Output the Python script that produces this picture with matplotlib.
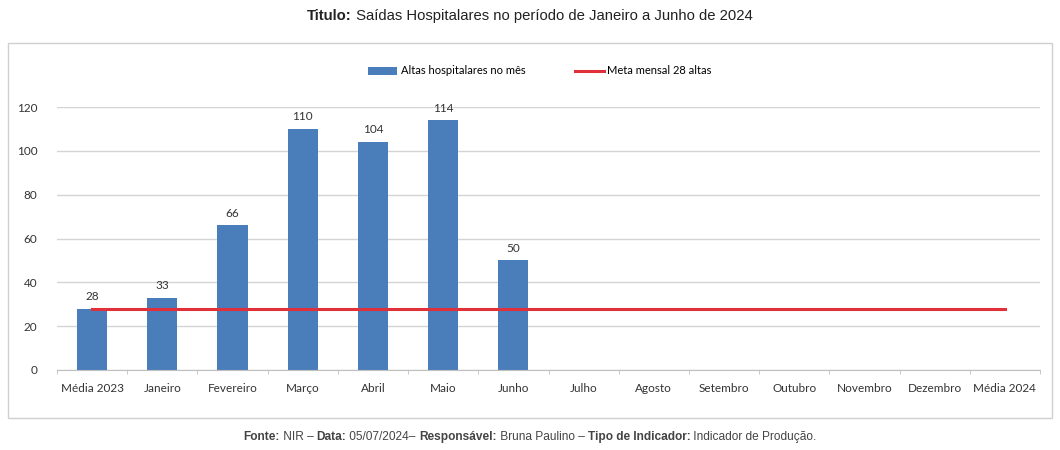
import numpy as np
import matplotlib.pyplot as plt
from matplotlib.patches import Rectangle

categorias = ["Média 2023", "Janeiro", "Fevereiro", "Março", "Abril", "Maio", "Junho",
              "Julho", "Agosto", "Setembro", "Outubro", "Novembro", "Dezembro", "Média 2024"]
altas = [28, 33, 66, 110, 104, 114, 50]
meta = [28] * len(categorias)

titulo = [("Titulo:", "bold"), (" Saídas Hospitalares no período de Janeiro a Junho de 2024", "normal")]
rodape = [("Fonte:", "bold"), (" NIR – ", "normal"), ("Data:", "bold"), (" 05/07/2024– ", "normal"),
          ("Responsável:", "bold"), (" Bruna Paulino – ", "normal"), ("Tipo de Indicador:", "bold"),
          (" Indicador de Produção.", "normal")]

fig = plt.figure(figsize=(10.6, 4.5), dpi=100)
fig.patch.set_facecolor("white")

# moldura do grafico
fig.patches.append(Rectangle((8 / 1060, 1 - 418 / 450), 1044 / 1060, 375 / 450,
                             transform=fig.transFigure, facecolor="none",
                             edgecolor="#d0d0d0", linewidth=1.0))

ax = fig.add_axes([57 / 1060, 1 - 370 / 450, (1040 - 57) / 1060, (370 - 107) / 450])

x = np.arange(len(categorias))
bars = ax.bar(x[:len(altas)], altas, width=0.43, color="#4a7ebb",
              label="Altas hospitalares no mês", zorder=2)
line, = ax.plot(x, meta, color="#e0303a", linewidth=2.2,
                label="Meta mensal 28 altas", zorder=3)

for xi, v in zip(x, altas):
    ax.text(xi, v + 3, str(v), ha="center", va="bottom", fontsize=8.5,
            family="Lato", color="#333333")

ax.set_xlim(-0.5, len(categorias) - 0.5)
ax.set_ylim(0, 120)
ax.set_yticks(range(0, 121, 20))
ax.yaxis.grid(True, color="#d4d4d4", linewidth=1.0, zorder=0)
ax.set_axisbelow(True)
for s in ["top", "right", "left"]:
    ax.spines[s].set_visible(False)
ax.spines["bottom"].set_color("#bfbfbf")
ax.tick_params(axis="y", length=0, pad=14, labelsize=8.5, colors="#333333")
ax.set_xticks(x)
ax.set_xticklabels(categorias, fontsize=8.5, family="Lato", color="#333333")
ax.set_xticks(np.arange(-0.5, len(categorias), 1), minor=True)
ax.tick_params(axis="x", which="major", length=0, pad=9)
ax.tick_params(axis="x", which="minor", length=3, color="#bfbfbf")
for lab in ax.get_yticklabels():
    lab.set_family("Lato")

fig.legend(handles=[bars, line], loc="center", bbox_to_anchor=(540 / 1060, 1 - 71 / 450),
           ncol=2, frameon=False, prop={"family": "Lato", "size": 8},
           handlelength=2.6, columnspacing=4.5, handletextpad=0.3)


def texto_misto(partes, y, size, color):
    # escreve pedacos em negrito/normal lado a lado, centralizado
    renderer = fig.canvas.get_renderer()
    textos = []
    for s, w in partes:
        t = fig.text(0, y, s, fontsize=size, fontweight=w, family="Liberation Sans",
                     color=color, va="center", ha="left")
        textos.append(t)
    larguras = [t.get_window_extent(renderer).width for t in textos]
    total = sum(larguras)
    xpix = fig.bbox.width / 2 - total / 2
    for t, w in zip(textos, larguras):
        t.set_x(xpix / fig.bbox.width)
        xpix += w


texto_misto(titulo, 1 - 16 / 450, 10.7, "#222222")
texto_misto(rodape, 1 - 437 / 450, 8.6, "#444444")

fig.savefig("out.png", dpi=100)
